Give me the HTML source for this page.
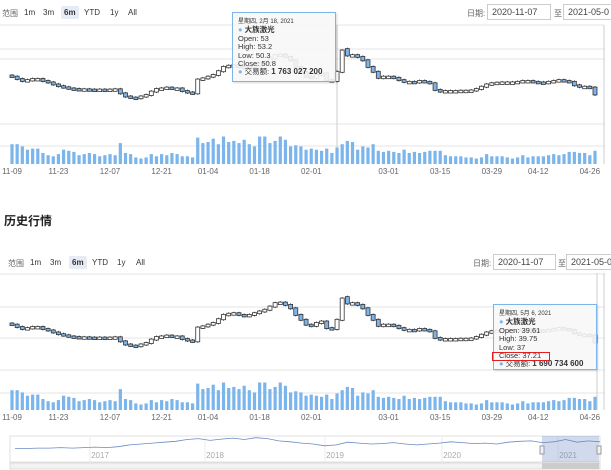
<!DOCTYPE html>
<html><head><meta charset="utf-8"><style>
body{margin:0;width:611px;height:470px;overflow:hidden;background:#fff;font-family:"Liberation Sans","Noto Sans CJK SC",sans-serif;position:relative}
.abs{position:absolute}
.btn{position:absolute;font-size:8px;color:#333;padding:2px 3px;border-radius:2px}
.btn.sel{background:#e6ebf5;font-weight:bold}
.inp{position:absolute;border:1px solid #ccc;font-size:9px;color:#444;line-height:14px;padding-left:4px;box-sizing:border-box;height:16px;background:#fff}
.lbl{position:absolute;font-size:8px;color:#666}
.tip{position:absolute;background:rgba(247,247,247,0.9);border:1px solid #7cb5ec;font-size:7.5px;color:#333;padding:5px 5px 0 5px;box-sizing:border-box;line-height:8.4px;box-shadow:1px 1px 2px rgba(0,0,0,0.15);white-space:nowrap}
.tip b{font-weight:bold}
.dot{color:#7cb5ec}
</style></head><body>
<svg id="svg" class="abs" style="left:0;top:0" width="611" height="470"></svg>

<div>
<span class="lbl" style="left:2px;top:8px">范围</span>
<span class="btn" style="left:21px;top:6px">1m</span>
<span class="btn" style="left:40px;top:6px">3m</span>
<span class="btn sel" style="left:61px;top:6px">6m</span>
<span class="btn" style="left:81px;top:6px">YTD</span>
<span class="btn" style="left:107px;top:6px">1y</span>
<span class="btn" style="left:125px;top:6px">All</span>
<span class="lbl" style="left:467px;top:8px">日期:</span>
<div class="inp" style="left:487px;top:4px;width:64px">2020-11-07</div>
<span class="lbl" style="left:554px;top:8px">至</span>
<div class="inp" style="left:563px;top:4px;width:60px">2021-05-0</div>
</div>

<div class="abs" style="left:4px;top:212px;font-size:12px;font-weight:bold;color:#222">历史行情</div>

<div>
<span class="lbl" style="left:8px;top:258px">范围</span>
<span class="btn" style="left:27px;top:256px">1m</span>
<span class="btn" style="left:47px;top:256px">3m</span>
<span class="btn sel" style="left:69px;top:256px">6m</span>
<span class="btn" style="left:89px;top:256px">YTD</span>
<span class="btn" style="left:114px;top:256px">1y</span>
<span class="btn" style="left:133px;top:256px">All</span>
<span class="lbl" style="left:473px;top:258px">日期:</span>
<div class="inp" style="left:493px;top:254px;width:63px">2020-11-07</div>
<span class="lbl" style="left:558px;top:258px">至</span>
<div class="inp" style="left:566px;top:254px;width:60px">2021-05-0</div>
</div>

<div class="tip" style="left:232px;top:12px;width:104px;height:70px">
<div style="font-size:6px">星期四, 2月 18, 2021</div>
<div><span class="dot">●</span> <b>大族激光</b></div>
<div>Open: 53</div><div>High: 53.2</div><div>Low: 50.3</div><div>Close: 50.8</div>
<div><span class="dot">●</span> 交易额: <b style="font-size:8px">1 763 027 200</b></div>
</div>

<div class="tip" style="left:493px;top:304px;width:104px;height:66px">
<div style="font-size:6px">星期四, 5月 6, 2021</div>
<div><span class="dot">●</span> <b>大族激光</b></div>
<div>Open: 39.61</div><div>High: 39.75</div><div>Low: 37</div><div>Close: 37.21</div>
<div><span class="dot">●</span> 交易额: <b style="font-size:8px">1 690 734 600</b></div>
</div>
<div class="abs" style="left:492px;top:352px;width:58px;height:9px;border:1.5px solid #e02020;box-sizing:border-box"></div>

<script>
const opens=[43.8,43.4,42.6,41.9,42.2,42.6,42.6,41.9,41.4,40.7,40.1,39.7,39.3,39.1,39.0,39.0,38.9,38.8,38.9,38.8,38.9,39.0,37.6,36.5,36.1,35.9,36.5,37.0,38.2,39.1,39.3,39.6,39.3,39.3,38.4,37.9,37.6,
42.4,42.8,43.4,44.0,45.3,46.8,47.2,47.4,46.8,
46.5,46.8,47.4,48.0,48.6,49.7,50.9,51.1,50.3,
49.1,46.8,45.1,43.4,43.0,44.0,44.5,42.2,
41.9,45.1,53.0,50.8,50.9,50.3,49.1,46.8,45.1,43.0,
43.4,43.4,43.0,42.2,41.6,41.6,41.4,41.9,41.6,41.1,
38.8,38.2,38.4,38.4,38.4,38.5,38.5,38.6,39.1,39.9,
40.7,41.1,41.3,41.4,41.4,41.4,41.6,41.9,41.9,41.6,
41.4,41.3,41.6,41.9,42.2,41.9,41.6,40.4,39.9,39.9,39.61];
const closes=[43.4,42.6,41.9,42.2,42.6,42.6,41.9,41.4,40.7,40.1,39.7,39.3,39.1,39.0,39.0,38.9,38.8,38.9,38.8,38.9,39.0,37.6,36.5,36.1,35.9,36.5,37.0,38.2,39.1,39.3,39.6,39.3,39.3,38.4,37.9,37.6,42.4,
42.8,43.4,44.0,45.3,46.8,47.2,47.4,46.8,46.5,
46.8,47.4,48.0,48.6,49.7,50.9,51.1,50.3,49.1,
46.8,45.1,43.4,43.0,44.0,44.5,42.2,41.9,
45.1,52.5,50.8,50.9,50.3,49.1,46.8,45.1,43.0,43.4,
43.4,43.0,42.2,41.6,41.6,41.4,41.9,41.6,41.1,38.8,
38.2,38.4,38.4,38.4,38.5,38.5,38.6,39.1,39.9,40.7,
41.1,41.3,41.4,41.4,41.4,41.6,41.9,41.9,41.6,41.4,
41.3,41.6,41.9,42.2,41.9,41.6,40.4,39.9,39.9,39.6,37.21];
const volumes=[18,18,16,13,14,14,10,8,7,9,13,12,11,8,9,10,9,7,8,9,8,19,10,9,6,5,6,9,7,9,8,10,9,7,7,6,24,19,20,23,18,25,20,21,19,22,18,16,25,25,19,21,25,22,16,17,16,13,14,13,12,14,10,15,18,21,20,13,16,15,18,12,11,12,11,10,13,10,11,10,11,12,12,12,8,7,7,7,6,6,5,6,9,7,7,7,6,5,6,8,6,7,7,7,8,9,8,9,11,11,10,10,8,12,11,10,8,11,13,18];
const tickLabels=["11-09","11-23","12-07","12-21","01-04","01-18","02-01","03-01","03-15","03-29","04-12","04-26"];
const tickIdx=[0,9,19,29,38,48,58,73,83,93,102,112];
const navValues=[30,30,31,31,32,31,32,33,32,34,38,40,42,44,46,50,52,48,51,53,50,54,52,47,45,42,40,36,38,44,42,40,41,43,40,38,40,42,45,43,41,42,40,44,46,47,43,45,50,44,47,45];
const navYears=["2017","2018","2019","2020","2021"];
const navYearX=[100,215,335,452,568];

const svg=document.getElementById('svg');
const NS='http://www.w3.org/2000/svg';
function mk(t,a,name){const e=document.createElementNS(NS,t);for(const k in a)e.setAttribute(k,a[k]);


svg.appendChild(e);return e;}
const n=closes.length;
function xAt(i){return 12+i*(595-12)/(n-1);}
function yPrice(p,base){return base+(52-p)*2.87;}
function yVol(v,base){return base-v*1.1;}

function chart(off,volBase,grid,labelY,crossX){
  grid.forEach(g=>mk('line',{x1:0,x2:604,y1:g,y2:g,stroke:'#e6e6e6','stroke-width':1},'grid-line'));
  mk('line',{x1:604,x2:604,y1:off-27,y2:volBase,stroke:'#ccc','stroke-width':1},'plot-right-edge');
  mk('line',{x1:crossX,x2:crossX,y1:off-27,y2:volBase,stroke:'#ccc','stroke-width':1},'crosshair');
  for(let i=0;i<n;i++){
    const x=xAt(i),o=opens[i],c=closes[i];
    const up=c>=o;
    const yt=yPrice(Math.max(o,c),off),yb=yPrice(Math.min(o,c),off);
    mk('line',{x1:x,x2:x,y1:yt-1.5,y2:yb+1.5,stroke:'#333','stroke-width':0.8},'candle-wick');
    mk('rect',{x:x-2,y:yt-0.5,width:4,height:Math.max(2.5,yb-yt+1),fill:up?'#fff':'#7cb5ec',stroke:'#333','stroke-width':0.8},'candle');
    const vy=yVol(volumes[i],volBase);
    mk('rect',{x:x-1.6,y:vy,width:3.2,height:volBase-vy,fill:'#7cb5ec'},'volume-bar');
  }
  tickLabels.forEach((t,k)=>{const e=mk('text',{x:xAt(tickIdx[k]),y:labelY,'font-size':8,fill:'#666','text-anchor':'middle','font-family':'Liberation Sans'},'x-tick-label');e.textContent=t;});
}
chart(52,164,[25,49,59,124,146],174,337);
chart(300,410,[274,307,338,370,393],420,597);

mk('rect',{x:10,y:436,width:590,height:26,fill:'#fff',stroke:'#e0e0e0'},'navigator-frame');
navYearX.forEach((x,k)=>{mk('line',{x1:x-10,x2:x-10,y1:436,y2:462,stroke:'#eee'},'navigator-grid');
 const e=mk('text',{x:x,y:458,'font-size':8,fill:'#aaa','text-anchor':'middle','font-family':'Liberation Sans'},'navigator-year');e.textContent=navYears[k];});
mk('rect',{x:542,y:436,width:57,height:26,fill:'rgba(102,133,194,0.3)'},'navigator-selection');
let pts=navValues.map((v,i)=>(15+i*(585/(navValues.length-1))).toFixed(1)+','+(462-v*0.45).toFixed(1)).join(' ');
mk('polyline',{points:pts,fill:'none',stroke:'#6a8ac4','stroke-width':0.8},'navigator-series');
mk('rect',{x:540,y:446,width:4,height:8,fill:'#f2f2f2',stroke:'#999'},'navigator-handle-left');
mk('rect',{x:597,y:446,width:4,height:8,fill:'#f2f2f2',stroke:'#999'},'navigator-handle-right');
mk('rect',{x:10,y:463,width:590,height:6,fill:'#f2f2f2',stroke:'#ddd'},'scrollbar-track');
mk('rect',{x:542,y:463,width:57,height:6,fill:'#ccc'},'scrollbar-thumb');
</script>
</body></html>
